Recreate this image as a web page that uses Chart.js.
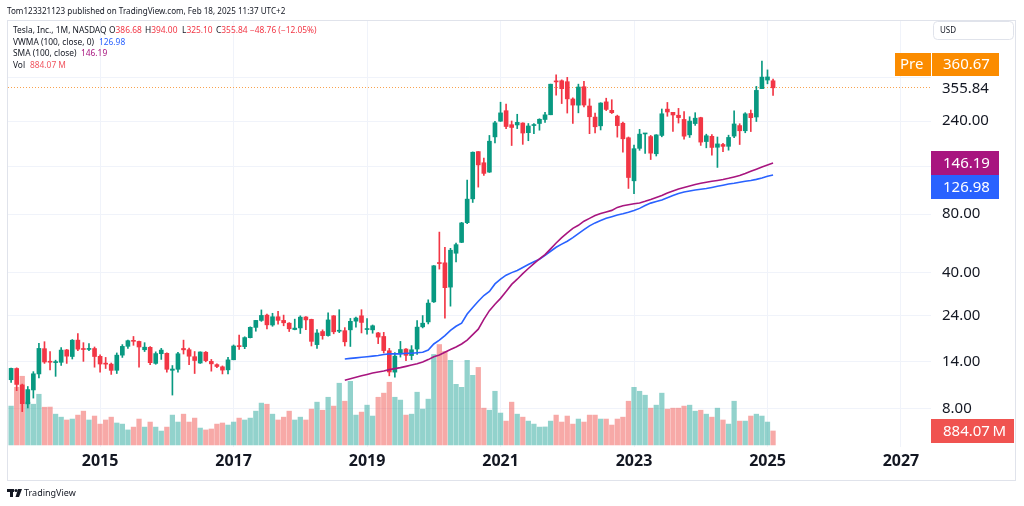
<!DOCTYPE html>
<html>
<head>
<meta charset="utf-8">
<script src="https://cdn.jsdelivr.net/npm/chart.js@4.4.1/dist/chart.umd.min.js"></script>
<style>
  html, body { margin: 0; padding: 0; background: #fff; }
  #wrap { position: relative; width: 1024px; height: 506px; overflow: hidden; font-family: 'Noto Sans', sans-serif; color: #131722; }
  #chart { position: absolute; left: 0; top: 0; }
  .lg { position: absolute; white-space: nowrap; font-size: 8.4px; line-height: 12px; color: #131722; }
  .r { color: #F23645; }
  .b { color: #2962FF; }
  .m { color: #A8157F; }
  .v { color: #F0555F; }
</style>
</head>
<body>
<div id="wrap">
  <canvas id="chart" width="1024" height="506"></canvas>
  <div class="lg" style="left:7px;top:5px;font-size:8.1px">Tom123321123 published on TradingView.com, Feb 18, 2025 11:37 UTC+2</div>
  <div class="lg" style="left:13px;top:24px">Tesla, Inc., 1M, NASDAQ</div>
  <div class="lg" style="left:109px;top:24px">O<span class="r">386.68</span></div>
  <div class="lg" style="left:145px;top:24px">H<span class="r">394.00</span></div>
  <div class="lg" style="left:182px;top:24px">L<span class="r">325.10</span></div>
  <div class="lg" style="left:216px;top:24px">C<span class="r">355.84</span></div>
  <div class="lg r" style="left:250px;top:24px">−48.76 (−12.05%)</div>
  <div class="lg" style="left:13px;top:36px">VWMA (100, close, 0)</div>
  <div class="lg b" style="left:99px;top:36px">126.98</div>
  <div class="lg" style="left:13px;top:47px">SMA (100, close)</div>
  <div class="lg m" style="left:81px;top:47px">146.19</div>
  <div class="lg" style="left:13px;top:59px">Vol</div>
  <div class="lg v" style="left:30px;top:59px">884.07 M</div>
</div>
<script>
// Tesla monthly bars, Sep 2013 .. Feb 2025 (split adjusted)
const startYear = 2013, startMonth = 9;
const yearLabels = ['2015', '2017', '2019', '2021', '2023', '2025', '2027'];
const priceTicks = [8, 14, 24, 40, 80, 140, 240, 400];
const hiddenPriceTicks = [140, 400];

const opens = [
  11.27, 12.87, 10.60, 8.47, 9.99, 12.07, 16.27, 13.87, 13.80, 13.85, 16.03, 14.83, 18.00, 16.13, 16.13, 16.30,
  14.86, 13.60, 13.55, 12.60, 15.07, 16.73, 17.93, 17.73, 16.07, 16.53, 13.67, 15.33,
  15.40, 12.60, 12.75, 16.31, 16.07, 14.80, 13.73, 15.60, 14.00, 13.47, 13.13, 12.67,
  14.27, 16.87, 16.67, 18.53, 20.93, 22.73, 24.20, 21.53, 23.73, 22.73, 22.00, 20.40,
  20.80, 23.67, 23.00, 17.07, 19.93, 19.00, 24.00, 20.00, 20.13, 20.33, 22.53, 24.00,
  20.40, 20.33, 19.60, 18.80, 15.87, 12.33, 15.33, 16.20, 15.00, 16.20, 21.07, 22.33,
  28.30, 44.90, 44.90, 33.70, 50.30, 57.20, 72.20, 95.70, 167.38, 146.67, 131.33, 199.20,
  239.82, 271.43, 230.04, 229.33, 234.60, 209.27, 227.75, 233.33, 244.67, 258.73, 381.67, 386.90,
  382.58, 311.74, 289.89, 360.38, 286.92, 251.72, 227.00, 301.33, 272.58, 254.50, 234.05, 197.08,
  118.47, 173.89, 206.21, 199.91, 163.17, 202.59, 276.49, 266.26, 257.26, 244.81, 204.04, 233.14,
  250.08, 188.50, 200.52, 176.17, 182.00, 178.13, 201.02, 227.69, 214.12, 262.67, 252.04, 352.38,
  390.10, 386.68
];
const highs = [
  12.93, 12.97, 10.70, 10.40, 12.40, 17.33, 17.67, 15.73, 14.20, 16.47, 16.13, 18.13, 19.43, 17.47, 17.27, 16.60,
  15.13, 14.67, 13.73, 15.47, 17.07, 18.00, 18.80, 17.78, 17.47, 16.67, 15.67, 16.33,
  15.47, 13.33, 15.60, 18.00, 16.40, 15.73, 15.67, 15.73, 14.33, 13.60, 13.27, 14.67,
  17.00, 19.13, 18.73, 21.07, 22.73, 25.73, 24.47, 24.73, 25.33, 24.20, 22.13, 23.07,
  24.00, 23.80, 23.07, 20.40, 20.33, 24.87, 24.07, 25.80, 20.87, 23.27, 23.67, 25.80,
  23.20, 21.53, 19.73, 19.73, 16.33, 15.53, 17.73, 16.27, 16.87, 22.67, 24.07, 29.00,
  43.50, 64.60, 53.90, 53.30, 56.70, 72.50, 119.60, 166.71, 167.50, 155.00, 202.60, 239.57,
  300.13, 293.50, 240.37, 260.26, 235.33, 233.33, 233.33, 246.80, 266.33, 371.74, 414.50, 390.95,
  402.67, 315.67, 371.59, 384.29, 312.33, 264.21, 298.32, 314.67, 309.12, 257.50, 237.40, 198.92,
  180.68, 217.65, 207.79, 202.69, 204.48, 276.99, 299.29, 266.47, 278.98, 268.94, 252.75, 265.13,
  251.25, 205.60, 204.52, 198.87, 184.77, 203.20, 271.00, 232.67, 265.13, 273.54, 361.93, 488.54,
  439.74, 394.00
];
const lows = [
  10.93, 9.90, 7.73, 8.07, 9.07, 11.53, 13.67, 12.67, 11.73, 13.33, 13.67, 14.40, 15.87, 14.00, 15.87, 13.07,
  12.33, 12.87, 12.00, 12.13, 14.67, 16.33, 16.93, 13.07, 15.73, 13.47, 13.53, 14.33,
  12.33, 9.40, 12.33, 15.27, 13.47, 12.13, 13.67, 13.93, 12.47, 13.00, 12.07, 12.07,
  14.27, 16.13, 16.27, 18.47, 20.00, 22.47, 20.53, 21.20, 21.73, 21.33, 19.93, 20.33,
  19.47, 20.40, 16.80, 16.31, 18.20, 18.87, 19.40, 19.67, 16.80, 16.70, 21.00, 19.60,
  19.33, 19.53, 17.27, 15.47, 11.80, 11.62, 14.73, 14.13, 14.27, 15.20, 20.80, 21.80,
  28.10, 41.70, 23.37, 26.90, 45.40, 57.00, 71.30, 91.70, 109.96, 126.37, 130.77, 185.70,
  239.06, 219.67, 179.83, 219.67, 182.33, 190.33, 206.82, 215.53, 236.30, 258.70, 326.20, 295.37,
  264.00, 233.33, 264.67, 283.68, 206.86, 208.69, 216.17, 271.81, 262.47, 198.59, 166.19, 108.24,
  101.81, 169.93, 163.91, 152.37, 158.83, 199.37, 254.12, 212.36, 234.58, 194.07, 197.85, 228.20,
  180.06, 175.01, 160.51, 138.80, 167.41, 170.18, 197.60, 182.00, 209.11, 212.11, 238.88, 352.28,
  373.04, 325.10
];
const closes = [
  12.89, 10.66, 8.49, 10.03, 12.09, 16.32, 13.90, 13.86, 13.85, 16.00, 14.89, 17.98, 16.18, 16.11, 16.30, 14.83,
  13.57, 13.55, 12.59, 15.07, 16.72, 17.88, 17.75, 16.60, 16.56, 13.79, 15.35, 16.00,
  12.75, 12.79, 15.32, 16.05, 14.88, 14.15, 15.65, 14.13, 13.60, 13.18, 12.63, 14.25,
  16.79, 16.67, 18.55, 20.94, 22.73, 24.11, 21.57, 23.73, 22.74, 22.10, 20.59, 20.75,
  23.62, 22.87, 17.74, 19.59, 18.98, 22.86, 19.87, 20.21, 17.65, 22.49, 23.37, 22.19,
  20.47, 21.33, 18.66, 15.91, 12.35, 14.90, 16.11, 15.04, 16.06, 20.99, 21.99, 27.89,
  43.37, 44.53, 33.48, 52.13, 55.67, 71.99, 95.38, 166.11, 143.00, 129.35, 189.20, 235.22,
  264.51, 225.17, 222.64, 236.48, 208.41, 226.57, 229.07, 245.24, 258.49, 371.33, 381.59, 352.26,
  312.24, 290.14, 359.20, 290.25, 252.75, 224.47, 297.15, 275.61, 265.25, 227.54, 194.70, 123.18,
  173.22, 205.71, 207.46, 164.31, 203.93, 261.77, 267.43, 258.08, 250.22, 200.84, 240.08, 248.48,
  187.29, 201.88, 175.79, 183.28, 178.08, 197.88, 232.07, 214.11, 261.63, 249.85, 345.16, 403.84,
  404.60, 355.84
];
// volume, millions of shares
const volumes = [
  2460, 3650, 4350, 2710, 2580, 3210, 2390, 2400, 1950, 1760, 1580, 1640, 1890, 2140, 1580, 1830,
  1320, 1580, 1760, 1390, 1320, 950, 1130, 1640, 1130, 1450, 1130, 880,
  1130, 1890, 1450, 1950, 1450, 1700, 1070, 950, 1010, 1320, 1390, 1260,
  1450, 1700, 1580, 1700, 2140, 2650, 2580, 1950, 1580, 1760, 2140, 1580,
  1760, 1580, 2270, 2710, 2200, 3020, 2460, 3910, 2770, 4030, 1890, 2080,
  2520, 1830, 3020, 3280, 3970, 3020, 2840, 1890, 1950, 3340, 2270, 2900,
  5730, 6360, 5920, 5360, 3840, 3650, 5360, 4410, 4910, 2330, 2200, 3400,
  2020, 1510, 2710, 1950, 1760, 1510, 1320, 1130, 1140, 1510, 1890, 1450,
  1830, 1320, 1640, 1450, 1890, 1890, 1640, 1640, 1260, 1640, 1760, 2770,
  3650, 3400, 3150, 2330, 2520, 3280, 2270, 2330, 2330, 2460, 2520, 2140,
  2200, 1950, 1760, 2330, 1580, 1320, 2770, 1510, 1510, 1830, 1950, 1830,
  1450, 884.07
];
// moving averages start at Sep 2018 (bar index 60)
const maStart = 60;
const vwma = [
  14.4, 14.5, 14.6, 14.7, 14.8, 14.9, 15.0, 15.2, 15.3, 15.3,
  15.3, 15.4, 15.4, 15.5, 15.6, 16.0, 17.2, 18.0, 19.0, 20.2,
  21.2, 22.0, 24.5, 26.5, 28.5, 30.5, 32.0, 35.0, 37.0, 38.8,
  40.0, 41.0, 42.5, 44.0, 45.5, 46.8, 49.0, 51.5, 54.0, 56.0,
  58.0, 60.5, 63.5, 66.5, 69.5, 72.0, 74.0, 76.0, 77.5, 79.0,
  80.2, 81.6, 83.3, 85.5, 88.5, 91.0, 92.8, 94.5, 97.0, 99.5,
  102.0, 103.8, 105.0, 106.2, 107.2, 108.1, 109.5, 111.0, 112.5, 114.0,
  115.1, 116.5, 117.8, 119.0, 120.5, 122.5, 125.0, 126.98
];
const sma = [
  11.2, 11.4, 11.6, 11.8, 12.0, 12.2, 12.35, 12.5, 12.7, 12.85,
  13.0, 13.2, 13.4, 13.6, 13.9, 14.3, 14.8, 15.1, 15.6, 16.1,
  16.6, 17.2, 18.0, 19.2, 20.5, 23.0, 25.5, 27.5, 29.5, 32.0,
  34.8, 37.0, 39.5, 42.0, 44.5, 47.0, 49.5, 53.0, 56.8, 60.5,
  64.0, 67.5, 70.0, 73.5, 76.0, 78.5, 80.5, 82.0, 83.5, 86.5,
  88.3, 89.3, 90.3, 91.2, 93.0, 95.0, 97.3, 99.5, 102.5, 105.0,
  107.5, 109.5, 111.5, 113.3, 115.0, 116.5, 117.8, 119.0, 120.3, 122.0,
  124.0, 126.0, 129.0, 132.5, 136.0, 139.5, 143.0, 146.19
];
const lastPrice = 355.84;
const prePrice = 360.67;

const UP = '#089981', DOWN = '#F23645';
const VOL_UP = 'rgba(38,166,154,0.5)', VOL_DOWN = 'rgba(239,83,80,0.5)';
const SMA_COLOR = '#A8157F', VWMA_COLOR = '#2962FF';
const GRID = '#F0F3FA';
const FONT = "'Noto Sans', sans-serif";

const monthIndex = year => (year - startYear) * 12 + (1 - startMonth);
const idx = closes.map((c, i) => i);
const up = idx.map(i => closes[i] >= opens[i]);

const overlay = {
    id: 'overlay',
    beforeDatasetsDraw(chart) {
        const { ctx, chartArea, scales: { y } } = chart;
        // pre-market price line
        const py = Math.round(y.getPixelForValue(prePrice)) + 0.5;
        ctx.save();
        ctx.strokeStyle = '#F9A24E';
        ctx.lineWidth = 1;
        ctx.setLineDash([1, 2]);
        ctx.beginPath();
        ctx.moveTo(chartArea.left, py);
        ctx.lineTo(chartArea.right, py);
        ctx.stroke();
        ctx.restore();
    },
    afterDraw(chart) {
        const { ctx, chartArea, scales: { y, yv } } = chart;
        const R = chartArea.right;
        ctx.save();
        ctx.textBaseline = 'middle';
        ctx.font = '15px ' + FONT;

        const box = (x, yc, w, h, fill, text, tx) => {
            ctx.fillStyle = fill;
            ctx.fillRect(x, Math.round(yc - h / 2), w, h);
            ctx.fillStyle = '#fff';
            ctx.textAlign = 'left';
            ctx.fillText(text, tx, yc + 0.5);
        };

        // last close as plain text
        ctx.fillStyle = '#131722';
        ctx.textAlign = 'left';
        ctx.fillText(lastPrice.toFixed(2), R + 11, y.getPixelForValue(lastPrice) + 1);

        // pre-market label
        const preY = y.getPixelForValue(prePrice) - 22;
        box(R - 36, preY, 36, 23, '#FB8C00', 'Pre', R - 31);
        ctx.fillStyle = 'rgba(255,255,255,0.5)';
        ctx.fillRect(R, Math.round(preY - 11.5), 1, 23);
        box(R + 1, preY, 67, 23, '#FB8C00', prePrice.toFixed(2), R + 12);

        // moving average labels
        const smaY = y.getPixelForValue(sma[sma.length - 1]);
        box(R, smaY, 68, 24, SMA_COLOR, sma[sma.length - 1].toFixed(2), R + 12);
        box(R, smaY + 24, 68, 24, VWMA_COLOR, vwma[vwma.length - 1].toFixed(2), R + 12);

        // volume label
        const volY = yv.getPixelForValue(volumes[volumes.length - 1]);
        box(R, volY, 83, 24, '#F05350', '884.07\u2009M', R + 12);

        // currency box
        ctx.strokeStyle = '#E0E3EB';
        ctx.lineWidth = 1;
        ctx.beginPath();
        ctx.roundRect(933.5, 21.5, 80, 18, 4);
        ctx.stroke();
        ctx.fillStyle = '#131722';
        ctx.font = '8px ' + FONT;
        ctx.fillText('USD', 940, 31);

        // frame
        ctx.strokeStyle = '#E0E3EB';
        ctx.strokeRect(7.5, 20.5, 1008, 460);

        // TradingView logo
        ctx.fillStyle = '#131722';
        ctx.fillRect(7, 489, 7, 3);
        ctx.fillRect(10, 489, 3, 8);
        ctx.beginPath();
        ctx.arc(16, 490.5, 1.6, 0, Math.PI * 2);
        ctx.fill();
        ctx.beginPath();
        ctx.moveTo(18, 489); ctx.lineTo(22, 489); ctx.lineTo(19, 497); ctx.lineTo(15.5, 497);
        ctx.closePath();
        ctx.fill();
        ctx.font = '9px ' + FONT;
        ctx.fillText('TradingView', 24, 493.5);
        ctx.restore();
    }
};

new Chart(document.getElementById('chart'), {
    type: 'bar',
    data: {
        datasets: [
            {
                type: 'line', label: 'SMA (100, close)',
                data: sma.map((v, k) => ({ x: maStart + k, y: v })),
                borderColor: SMA_COLOR, borderWidth: 1.6, pointRadius: 0, tension: 0,
                yAxisID: 'y', order: 0
            },
            {
                type: 'line', label: 'VWMA (100, close, 0)',
                data: vwma.map((v, k) => ({ x: maStart + k, y: v })),
                borderColor: VWMA_COLOR, borderWidth: 1.6, pointRadius: 0, tension: 0,
                yAxisID: 'y', order: 0
            },
            {
                label: 'body',
                data: idx.map(i => ({ x: i, y: [opens[i], closes[i]] })),
                backgroundColor: up.map(u => u ? UP : DOWN),
                barThickness: 4, minBarLength: 1, grouped: false,
                yAxisID: 'y', order: 1
            },
            {
                label: 'wick',
                data: idx.map(i => ({ x: i, y: [lows[i], highs[i]] })),
                backgroundColor: up.map(u => u ? UP : DOWN),
                barThickness: 1, grouped: false,
                yAxisID: 'y', order: 2
            },
            {
                label: 'Vol',
                data: idx.map(i => ({ x: i, y: volumes[i] })),
                backgroundColor: up.map(u => u ? VOL_UP : VOL_DOWN),
                barThickness: 4.6, grouped: false,
                yAxisID: 'yv', order: 3
            }
        ]
    },
    options: {
        responsive: false,
        animation: false,
        devicePixelRatio: 1,
        layout: { padding: { left: 8, top: 21, right: 0, bottom: 25 } },
        plugins: { legend: { display: false }, tooltip: { enabled: false } },
        scales: {
            x: {
                type: 'linear', min: -0.56, max: 165.4, bounds: 'data', offset: false,
                grid: { color: GRID, drawTicks: false, offset: false },
                border: { display: false },
                afterBuildTicks: scale => {
                    scale.ticks = yearLabels.map(l => ({ value: monthIndex(+l) }));
                },
                afterFit: scale => { scale.height = 34; },
                ticks: {
                    autoSkip: false, maxRotation: 0, padding: 5, color: '#131722',
                    font: { family: FONT, size: 16, weight: 'bold' },
                    callback: v => String(startYear + Math.floor((v + startMonth - 1) / 12))
                }
            },
            y: {
                type: 'logarithmic', position: 'right', min: 5.086, max: 784.2, bounds: 'data',
                beginAtZero: false,
                grid: { color: GRID, drawTicks: false },
                border: { display: false },
                afterBuildTicks: scale => {
                    scale.ticks = priceTicks.map(v => ({ value: v }));
                },
                afterFit: scale => { scale.width = 93; },
                ticks: {
                    padding: 11, color: '#131722', crossAlign: 'near',
                    font: { family: FONT, size: 15 },
                    callback: v => hiddenPriceTicks.includes(v) ? '' : Number(v).toFixed(2)
                }
            },
            yv: {
                type: 'linear', display: false, min: -130, max: 26850
            }
        }
    },
    plugins: [overlay]
});
</script>
</body>
</html>
